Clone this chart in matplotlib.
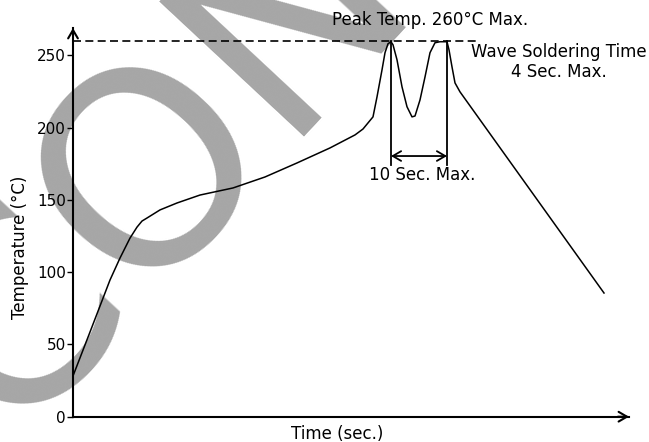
import numpy as np
import matplotlib
matplotlib.use('Agg')
from matplotlib import pyplot as plt

# wave soldering profile
time = [0, 17, 37, 47, 57, 64, 69, 74, 87, 104, 127, 160, 192, 224, 257, 282, 290,
        300, 304, 309, 312, 315, 318, 320, 324, 329, 334, 339, 342, 347, 352, 357,
        362, 367, 374, 376, 379, 382, 387, 531]
temp = [28.2, 58.6, 94.6, 109.8, 123.6, 131.2, 135.4, 137.5, 143.1, 147.9, 153.4,
        158.3, 165.9, 175.6, 186.0, 195.0, 199.1, 207.5, 221.3, 240.0, 251.9, 258.1,
        259.5, 257.4, 247.0, 228.3, 214.5, 207.5, 208.1, 219.2, 235.1, 251.9, 258.8,
        259.5, 259.5, 253.9, 242.1, 231.0, 224.8, 85.6]

peak_temp = 260
dash_end = 405
wave_start, wave_end = 318, 374
yticks = [0, 50, 100, 150, 200, 250]

fig = plt.figure(figsize=(6.49, 4.42), dpi=100)
ax = fig.add_axes([73/649, (442-416.7)/442, (629-73)/649, (416.7-28)/442])
ax.set_xlim(0, 556)
ax.set_ylim(0, 269)

# watermark
ax.text(8/649, 0.009, 'CONFIDENTIAL', transform=fig.transFigure, rotation=47,
        rotation_mode='anchor', ha='left', va='baseline', fontsize=195,
        color='#a6a6a6', zorder=0.5, clip_on=False)

ax.plot(time, temp, color='black', lw=1.1, zorder=3)
ax.plot([0, dash_end], [peak_temp, peak_temp], color='black', lw=1.2,
        dashes=(4.8, 2.6), zorder=3)

for x in (wave_start, wave_end):
    ax.plot([x, x], [174.3, peak_temp], color='black', lw=1.3, zorder=3)
ax.annotate('', xy=(wave_start, 180.4), xytext=(wave_end, 180.4),
            arrowprops=dict(arrowstyle='<->,head_length=0.6,head_width=0.35', lw=1.3,
                            shrinkA=0, shrinkB=0))

ax.text(357, 274.6, 'Peak Temp. 260°C Max.', ha='center', va='center', fontsize=12)
ax.text(486, 245.6, 'Wave Soldering Time\n4 Sec. Max.', ha='center', va='center',
        fontsize=12, multialignment='center', linespacing=1.15)
ax.text(349, 167.4, '10 Sec. Max.', ha='center', va='center', fontsize=12)

for s in ('top', 'right'):
    ax.spines[s].set_visible(False)
for s in ('left', 'bottom'):
    ax.spines[s].set_linewidth(1.5)
ax.annotate('', xy=(1, 0), xytext=(0.98, 0), xycoords='axes fraction',
            arrowprops=dict(arrowstyle='->,head_length=0.6,head_width=0.35', lw=1.5,
                            shrinkA=0, shrinkB=0))
ax.annotate('', xy=(0, 1), xytext=(0, 0.98), xycoords='axes fraction',
            arrowprops=dict(arrowstyle='->,head_length=0.6,head_width=0.35', lw=1.5,
                            shrinkA=0, shrinkB=0))

ax.set_xticks([])
ax.set_yticks(yticks)
ax.tick_params(axis='y', length=4, width=1, labelsize=11, pad=1)
ax.set_xlabel('Time (sec.)', fontsize=12)
ax.set_ylabel('Temperature (°C)', fontsize=12)
ax.xaxis.set_label_coords(0.4748, -0.021)
ax.yaxis.set_label_coords(-0.079, 0.4366)

fig.savefig('out.png', dpi=100)
